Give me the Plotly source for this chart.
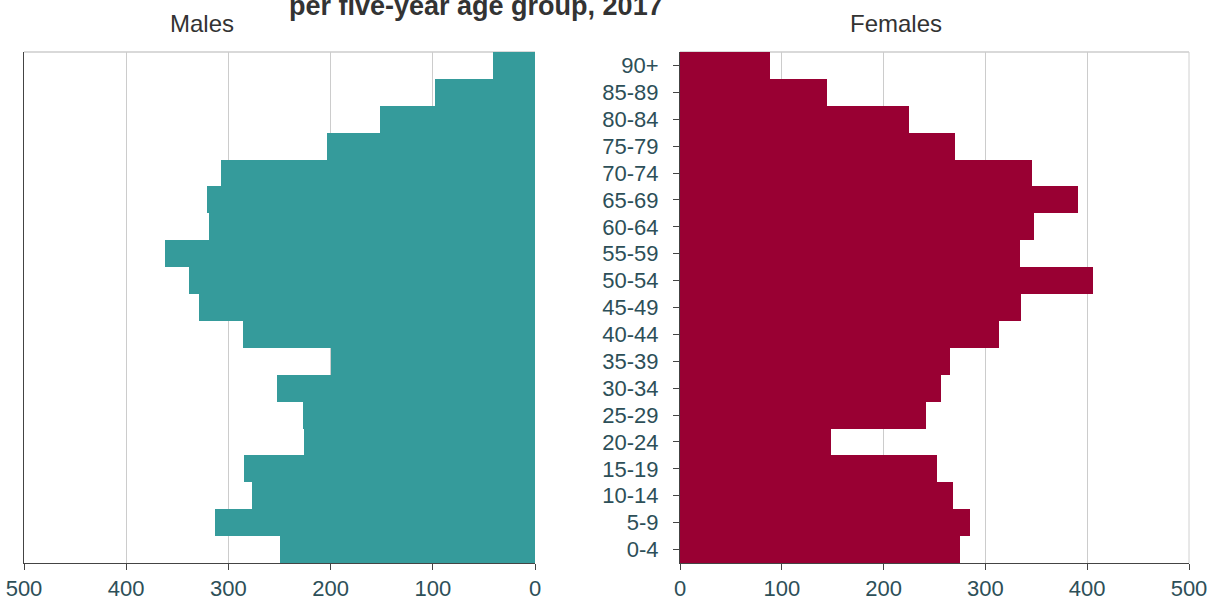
import plotly.graph_objects as go

age_groups = ["0-4", "5-9", "10-14", "15-19", "20-24", "25-29", "30-34", "35-39",
              "40-44", "45-49", "50-54", "55-59", "60-64", "65-69", "70-74",
              "75-79", "80-84", "85-89", "90+"]
males = [250, 313, 277, 285, 226, 227, 252, 200, 286, 329, 339, 362, 319, 321,
         307, 204, 152, 98, 41]
females = [275, 285, 268, 252, 148, 242, 256, 265, 313, 335, 406, 334, 348, 391,
           346, 270, 225, 144, 88]
x_ticks = [0, 100, 200, 300, 400, 500]

TEAL = "#359b9b"
CRIMSON = "#990033"
TICK_COLOR = "#2d4f58"
GRID = "#cccccc"
AXIS = "#444444"
FONT = "Arial, Liberation Sans, sans-serif"

W, H = 1214, 601
L_M, R_M = 24, 535
L_F, R_F = 680, 1189
TOP, BOT = 52, 563


def py(pixel_y):
    return (BOT - pixel_y) / (BOT - TOP)


fig = go.Figure()
fig.add_trace(go.Bar(y=age_groups, x=males, orientation="h", marker=dict(color=TEAL, line=dict(width=0)),
                     xaxis="x", yaxis="y", showlegend=False, name="Males"))
fig.add_trace(go.Bar(y=age_groups, x=females, orientation="h", marker=dict(color=CRIMSON, line=dict(width=0)),
                     xaxis="x2", yaxis="y2", showlegend=False, name="Females"))

xcommon = dict(tickvals=x_ticks, ticktext=[str(v) for v in x_ticks], showgrid=True, gridcolor=GRID,
               gridwidth=1, showline=True, linecolor=AXIS, linewidth=1, ticks="outside", ticklen=6,
               tickcolor=AXIS, tickfont=dict(family=FONT, size=22, color=TICK_COLOR), zeroline=False,
               layer="below traces", fixedrange=True, automargin=False)

fig.update_layout(
    template="none",
    width=W, height=H,
    margin=dict(l=0, r=0, t=TOP, b=H - BOT, pad=0),
    autosize=False,
    paper_bgcolor="white", plot_bgcolor="white",
    bargap=0,
    font=dict(family=FONT),
    xaxis=dict(domain=[L_M / W, R_M / W], range=[500, 0], anchor="y", **xcommon),
    xaxis2=dict(domain=[L_F / W, R_F / W], range=[0, 500], anchor="y2", **xcommon),
    yaxis=dict(anchor="x", categoryorder="array", categoryarray=age_groups, showticklabels=False,
               showline=True, linecolor=AXIS, linewidth=1, ticks="", showgrid=False, zeroline=False,
               range=[-0.5, len(age_groups) - 0.5], layer="below traces", automargin=False,
               fixedrange=True),
    yaxis2=dict(anchor="x2", categoryorder="array", categoryarray=age_groups, showticklabels=True,
                showline=True, linecolor=AXIS, linewidth=1, ticks="outside", ticklen=6, tickcolor=AXIS,
                tickfont=dict(family=FONT, size=22, color=TICK_COLOR), showgrid=False, zeroline=False,
                range=[-0.5, len(age_groups) - 0.5], layer="below traces", automargin=False,
                ticklabelstandoff=10, fixedrange=True),
    shapes=[
        dict(type="line", xref="paper", yref="paper", x0=L_M / W, x1=R_M / W, y0=1, y1=1,
             line=dict(color="#d9d9d9", width=2), layer="below"),
        dict(type="line", xref="paper", yref="paper", x0=L_F / W, x1=R_F / W, y0=1, y1=1,
             line=dict(color="#d9d9d9", width=2), layer="below"),
        dict(type="line", xref="paper", yref="paper", x0=R_F / W, x1=R_F / W, y0=0, y1=1,
             line=dict(color="#d0d0d0", width=1), layer="below"),
    ],
    annotations=[
        dict(text="<b>per five-year age group, 2017</b>", xref="paper", yref="paper",
             x=476 / W, y=py(6), xanchor="center", yanchor="middle",
             showarrow=False, font=dict(family=FONT, size=27, color="#333333")),
        dict(text="Males", xref="paper", yref="paper", x=202 / W, y=py(23),
             xanchor="center", yanchor="middle", showarrow=False,
             font=dict(family=FONT, size=24, color="#333333")),
        dict(text="Females", xref="paper", yref="paper", x=896 / W, y=py(23),
             xanchor="center", yanchor="middle", showarrow=False,
             font=dict(family=FONT, size=24, color="#333333")),
    ],
)

fig.write_html("out.html", config={"displayModeBar": False},
               post_script="document.body.style.margin='0';document.body.style.overflow='hidden';")
